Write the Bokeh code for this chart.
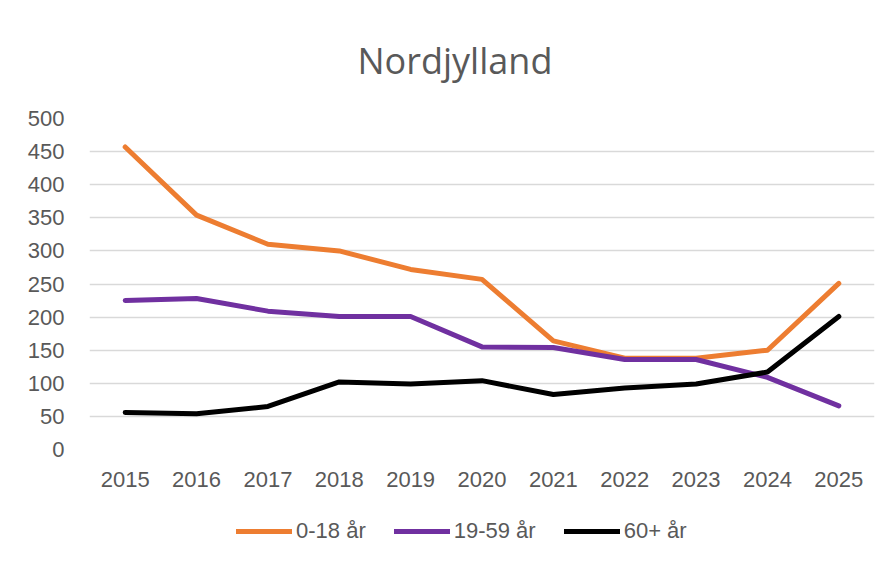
from bokeh.plotting import figure
from bokeh.layouts import column
from bokeh.models import Legend, LegendItem, FixedTicker, Range1d, FactorRange
from bokeh.embed import file_html
from bokeh.resources import INLINE

years = ["2015", "2016", "2017", "2018", "2019", "2020", "2021", "2022", "2023", "2024", "2025"]
age_0_18 = [457, 354, 310, 300, 272, 257, 164, 138, 138, 150, 251]
age_19_59 = [225, 228, 209, 201, 201, 155, 154, 136, 136, 109, 66]
age_60_plus = [56, 54, 65, 102, 99, 104, 83, 93, 99, 117, 201]
series_names = ["0-18 år", "19-59 år", "60+ år"]
y_ticks = [0, 50, 100, 150, 200, 250, 300, 350, 400, 450, 500]
chart_title = "Nordjylland"

colors = ["#ED7D31", "#7030A0", "#000000"]
text_color = "#595959"
tick_font = "Liberation Sans"

p = figure(x_range=FactorRange(*years), y_range=Range1d(0, 500),
           frame_width=785, frame_height=331, output_backend="svg", toolbar_location=None,
           min_border_left=89, min_border_right=10, min_border_top=118, min_border_bottom=56)
p.outline_line_color = None
p.background_fill_color = "white"
p.border_fill_color = "white"

p.title.text = chart_title
p.title.align = "left"
p.title.offset = 268
p.title.vertical_align = "middle"
p.title.standoff = 66
p.title.text_font = "Open Sans"
p.title.text_font_size = "36px"
p.title.text_font_style = "normal"
p.title.text_color = text_color

for vals, c in zip([age_0_18, age_19_59, age_60_plus], colors):
    p.line(years, vals, line_color=c, line_width=5, line_cap="round", line_join="round")

p.yaxis.ticker = FixedTicker(ticks=y_ticks)
p.xgrid.grid_line_color = None
p.ygrid.grid_line_color = "#d9d9d9"
p.ygrid.grid_line_width = 1.5
for ax in (p.xaxis, p.yaxis):
    ax.axis_line_color = None
    ax.major_tick_line_color = None
    ax.minor_tick_line_color = None
    ax.major_label_text_font = tick_font
    ax.major_label_text_font_size = "22px"
    ax.major_label_text_color = text_color
p.yaxis.major_label_standoff = 19
p.xaxis.major_label_standoff = 16

# legend strip below the chart
p2 = figure(x_range=Range1d(0, 1), y_range=Range1d(0, 1), frame_width=884, frame_height=60,
            output_backend="svg", toolbar_location=None, x_axis_location=None, y_axis_location=None,
            min_border_left=0, min_border_right=0, min_border_top=0, min_border_bottom=0)
p2.outline_line_color = None
p2.grid.visible = False
p2.background_fill_color = "white"
p2.border_fill_color = "white"

legend_renderers = []
for c in colors:
    # single off-range point: nothing visible in the strip, but a legend sample is drawn
    legend_renderers.append(p2.line([0], [-1], line_color=c, line_width=5, line_cap="round"))

legend = Legend(items=[LegendItem(label=n, renderers=[r]) for n, r in zip(series_names, legend_renderers)],
                orientation="horizontal", location=(236, 21),
                glyph_width=56, glyph_height=20, label_standoff=4, spacing=28,
                padding=0, margin=0, border_line_color=None, background_fill_alpha=0,
                label_text_font=tick_font, label_text_font_size="22px", label_text_color=text_color)
p2.add_layout(legend, "center")

open("out.html", "w").write(file_html(column(p, p2, spacing=0), INLINE))
